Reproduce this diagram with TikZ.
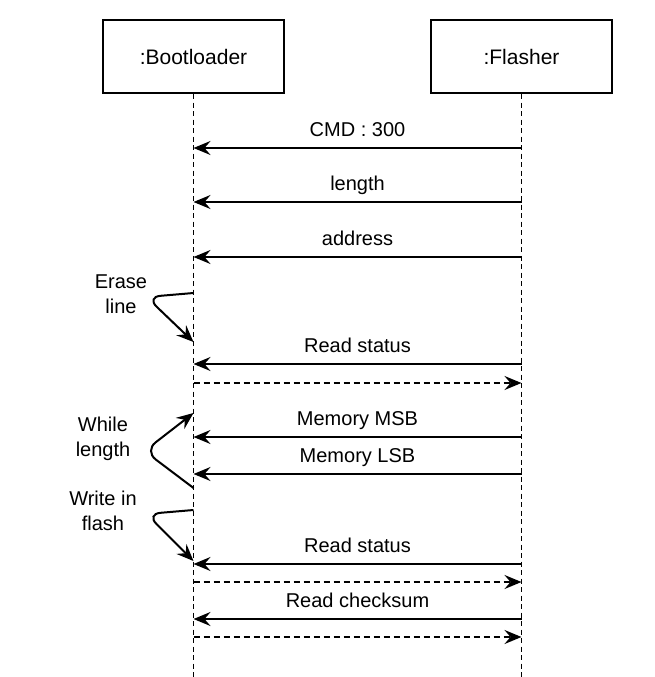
\documentclass[tikz,border=0pt]{standalone}
\usepackage{fontspec}
\setmainfont{Liberation Sans}
\usetikzlibrary{positioning,arrows.meta}

\begin{document}
\begin{tikzpicture}[x=1pt, y=-1pt, node distance=145pt,
  every node/.style={font=\fontsize{20}{25}\selectfont}]
  \tikzstyle{head}=[rectangle, draw, line width=2pt, minimum width=181pt, minimum height=73pt,
  font=\fontsize{21}{25}\selectfont]
  \tikzstyle{lifeline}=[line width=1.8pt, dash pattern=on 5pt off 3.5pt]
  \tikzstyle{msg}=[-{Stealth[length=17pt, width=14pt, inset=6pt]}, line width=2pt]
  \tikzstyle{reply}=[msg, dash pattern=on 6pt off 4pt]
  \tikzstyle{self}=[msg, rounded corners=14pt]
  \tikzstyle{lbl}=[above, yshift=5pt, text height=14pt, text depth=4pt, inner sep=2pt]
  \tikzstyle{note}=[align=center, inner sep=0pt]
  \useasboundingbox (0,0) rectangle (654,677);
  \node[head] (boot) at (193.5,56.5) {:Bootloader};
  \node[head, right=of boot] (flasher) {:Flasher};
  \coordinate (bottom) at (0,677);
  \draw[lifeline] (boot.south) -- (boot |- bottom);
  \draw[lifeline] (flasher.south) -- (flasher |- bottom);
  % points on the lifelines
  \foreach \n/\y in {cmd/148, len/202, adr/257, rs1/364, ack1/383, msb/437,
    lsb/474, rs2/564, ack2/582, chk/619, ack3/637} {
    \coordinate (b-\n) at (boot |- 0,\y);
    \coordinate (f-\n) at (flasher |- 0,\y);
  }
  \foreach \n/\y in {eraseA/293, eraseB/342, whileA/488, whileB/413,
    writeA/510, writeB/561} {
    \coordinate (\n) at (boot |- 0,\y);
  }
  \draw[msg] (f-cmd) -- node[lbl] {CMD : 300} (b-cmd);
  \draw[msg] (f-len) -- node[lbl] {length} (b-len);
  \draw[msg] (f-adr) -- node[lbl] {address} (b-adr);
  \draw[self] (eraseA) -- ++(-47,4) -- (eraseB);
  \node[note] (erase) at (121,294) {Erase\\line};
  \draw[msg] (f-rs1) -- node[lbl] {Read status} (b-rs1);
  \draw[reply] (b-ack1) -- (f-ack1);
  \draw[self] (whileA) -- ++(-49,-37) -- (whileB);
  \node[note] (loop) at (103,439) {While\\length};
  \draw[msg] (f-msb) -- node[lbl] {Memory MSB} (b-msb);
  \draw[msg] (f-lsb) -- node[lbl] {Memory LSB} (b-lsb);
  \draw[self] (writeA) -- ++(-47,4) -- (writeB);
  \node[note] (write) at (103,511) {Write in\\flash};
  \draw[msg] (f-rs2) -- node[lbl] {Read status} (b-rs2);
  \draw[reply] (b-ack2) -- (f-ack2);
  \draw[msg] (f-chk) -- node[lbl] {Read checksum} (b-chk);
  \draw[reply] (b-ack3) -- (f-ack3);
\end{tikzpicture}
\end{document}
